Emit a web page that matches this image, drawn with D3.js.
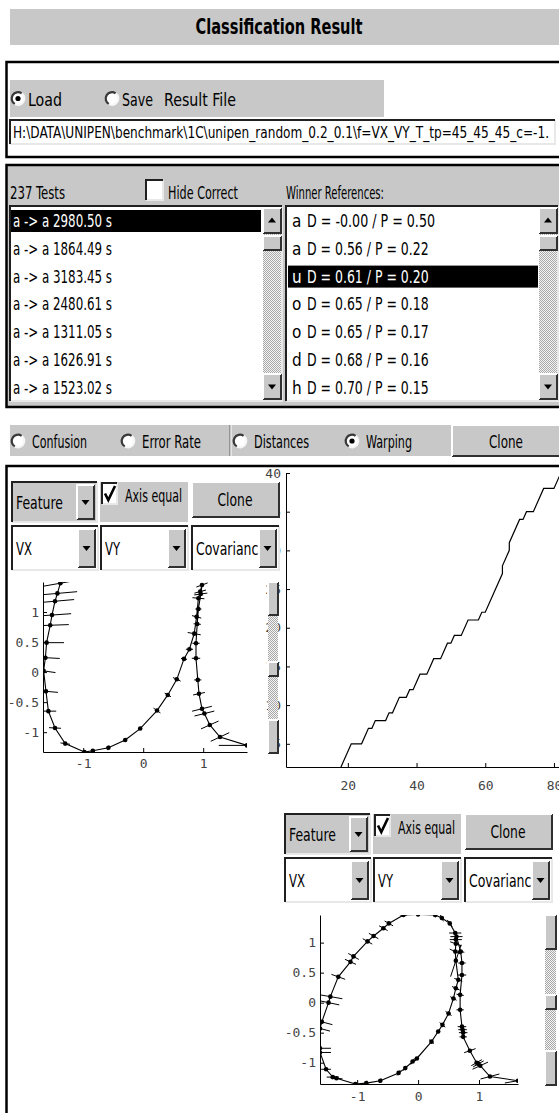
<!DOCTYPE html>
<html>
<head>
<meta charset="utf-8">
<title>Classification Result</title>
<script src="https://cdn.jsdelivr.net/npm/d3@7"></script>
<style>
  html, body { margin: 0; padding: 0; background: #fff; overflow: hidden; }
  svg text.gui { font-family: 'Liberation Sans Narrow', 'DejaVu Sans Condensed', 'Liberation Sans', sans-serif; fill: #000; }
  svg .tick text { font-family: 'DejaVu Sans Mono', 'Liberation Mono', monospace; font-size: 13px; fill: #444; }
</style>
</head>
<body>
<div id="chart"></div>
<script>

// ---------------- data ----------------
var resultPath = 'H:\\DATA\\UNIPEN\\benchmark\\1C\\unipen_random_0.2_0.1\\f=VX_VY_T_tp=45_45_45_c=-1.';
var testCount = 237;
var testItems = ['a -> a 2980.50 s', 'a -> a 1864.49 s', 'a -> a 3183.45 s', 'a -> a 2480.61 s',
                 'a -> a 1311.05 s', 'a -> a 1626.91 s', 'a -> a 1523.02 s'];
var refLetters = ['a', 'a', 'u', 'o', 'o', 'd', 'h'];
var refDist = ['-0.00', '0.56', '0.61', '0.65', '0.65', '0.68', '0.70'];
var refProb = ['0.50', '0.22', '0.20', '0.18', '0.17', '0.16', '0.15'];
var selectedTest = 0;
var selectedRef = 2;
var viewModes = ['Confusion', 'Error Rate', 'Distances', 'Warping'];
var activeMode = 'Warping';

// warping path (test frame index vs reference frame index)
var warpX = [18, 21, 24, 26, 27, 28, 31, 32, 33, 35, 37, 38, 39, 41, 43, 45, 47, 49, 50, 51, 53, 55,
             58, 59, 60, 65, 65, 67, 67, 70, 71, 72, 74, 77, 80, 82];
var warpY = [2, 5, 5, 7, 7, 8, 8, 9, 9, 11, 11, 12, 12, 14, 14, 16, 16, 18, 18, 19, 19, 21,
             21, 22, 22, 27, 28, 30, 31, 34, 34, 35, 35, 38, 38, 40];
var warpXTicks = [20, 40, 60, 80];
var warpYTicks = [5, 10, 15, 20, 25, 30, 35, 40];

// reference sample "u" (VX / VY) with covariance direction (deg) and half length
var refVX = [-1.38, -1.43, -1.47, -1.52, -1.55, -1.61, -1.63, -1.66, -1.62, -1.58, -1.47, -1.30, -0.98,
             -0.84, -0.58, -0.30, -0.05, 0.23, 0.41, 0.56, 0.68, 0.77, 0.85, 0.89, 0.92, 0.95, 0.98,
             0.96, 0.92, 0.90, 0.88, 0.88, 0.91, 0.93, 0.98, 1.02, 1.11, 1.28, 1.73];
var refVY = [1.48, 1.31, 1.18, 0.95, 0.78, 0.49, 0.24, 0.02, -0.32, -0.65, -0.93, -1.19, -1.33,
             -1.31, -1.26, -1.13, -0.94, -0.64, -0.38, -0.12, 0.22, 0.38, 0.64, 0.92, 1.23, 1.34, 1.45,
             1.30, 1.05, 0.80, 0.48, 0.23, -0.13, -0.36, -0.61, -0.69, -0.88, -1.08, -1.22];
var refCovAng = [10, 5, 5, 4, 2, 0, -3, -8, -5, 0, -3, -8, 80, 80, 75, 60, 45, -35, -30, -25, -10, 0, -10,
                 -15, -5, 15, 20, 8, 0, -5, 0, 0, 0, 12, 14, 14, 24, 25, 0];
var refCovLen = [0.35, 0.33, 0.32, 0.32, 0.31, 0.29, 0.24, 0.2, 0.2, 0.13, 0.1, 0.08, 0.03, 0.03, 0.04,
                 0.04, 0.04, 0.07, 0.06, 0.07, 0.05, 0.06, 0.11, 0.08, 0.1, 0.1, 0.1, 0.11, 0.05, 0.06,
                 0.06, 0.07, 0.06, 0.1, 0.17, 0.17, 0.16, 0.17, 0.47];

// test sample "a" (VX / VY) with covariance direction (deg) and half length
var testVX = [0.62, 0.61, 0.52, 0.39, 0.28, 0.00, -0.24, -0.48, -0.57, -0.73, -0.83, -1.06, -1.11, -1.31,
              -1.44, -1.47, -1.58, -1.61, -1.61, -1.61, -1.51, -1.40, -1.34, -1.03, -0.85, -0.62, -0.32,
              -0.21, -0.09, -0.02, 0.22, 0.33, 0.40, 0.50, 0.58, 0.62, 0.66, 0.62, 0.61, 0.62, 0.63,
              0.70, 0.72, 0.72, 0.69, 0.69, 0.72, 0.73, 0.74, 0.74, 0.85, 0.96, 0.99, 1.02, 1.18, 1.64];
var testVY = [1.05, 1.16, 1.32, 1.41, 1.46, 1.47, 1.46, 1.32, 1.24, 1.11, 1.02, 0.77, 0.68, 0.43,
              0.10, 0.00, -0.32, -0.43, -0.76, -0.83, -1.11, -1.24, -1.26, -1.355, -1.34, -1.30, -1.17,
              -1.09, -0.98, -0.93, -0.65, -0.48, -0.37, -0.18, 0.07, 0.24, 0.38, 0.70, 0.85, 0.98, 1.10,
              0.85, 0.66, 0.46, 0.13, -0.12, -0.40, -0.45, -0.50, -0.57, -0.80, -1.00, -1.02, -1.05, -1.23, -1.30];
var testCovAng = [0, 0, -55, -65, -80, 0, 0, -30, -30, -30, -30, -30, -25, -20, -10, -12, -15, -15, 0, 0,
                  0, 0, -5, 70, 75, 70, 60, 55, 60, 55, -40, 55, -40, -35, -30, -25, -20, 72, -25, -20, 0,
                  -10, 0, 0, -10, 0, 0, 0, 0, 0, 20, 30, 30, 25, 15, 10];
var testCovLen = [0.1, 0.1, 0.07, 0.06, 0.04, 0.08, 0.06, 0.08, 0.08, 0.09, 0.09, 0.1, 0.1, 0.12, 0.2,
                  0.18, 0.18, 0.17, 0.18, 0.18, 0.08, 0.1, 0.1, 0.03, 0.04, 0.04, 0.05, 0.05, 0.06, 0.06,
                  0.05, 0.05, 0.06, 0.06, 0.06, 0.07, 0.07, 0.28, 0.1, 0.1, 0.1, 0.06, 0.06, 0.07, 0.06,
                  0.06, 0.07, 0.07, 0.07, 0.06, 0.1, 0.1, 0.1, 0.14, 0.16, 0.22];

var scatterXTicks = [-1, 0, 1];
var scatterYTicks = [-1, -0.5, 0, 0.5, 1];

// ---------------- drawing ----------------
var GRAY = '#c8c8c8';

var svg = d3.select('#chart').append('svg')
  .attr('width', 559)
  .attr('height', 1113);

svg.append('rect').attr('width', 559).attr('height', 1113).attr('fill', '#fff');

var defs = svg.append('defs');
var dots = defs.append('pattern').attr('id', 'dots')
  .attr('width', 2).attr('height', 2).attr('patternUnits', 'userSpaceOnUse');
dots.append('rect').attr('width', 2).attr('height', 2).attr('fill', '#f4f4f4');
dots.append('rect').attr('width', 1).attr('height', 1).attr('fill', '#a8a8a8');
dots.append('rect').attr('x', 1).attr('y', 1).attr('width', 1).attr('height', 1).attr('fill', '#a8a8a8');

function label(g, x, y, str, size, len, anchor) {
  var t = g.append('text').attr('class', 'gui')
    .attr('x', x).attr('y', y)
    .attr('font-size', size)
    .attr('text-anchor', anchor || 'start')
    .text(str);
  if (len) t.attr('textLength', len).attr('lengthAdjust', 'spacingAndGlyphs');
  return t;
}

// windows style 3d box
function box(g, x, y, w, h, fill, kind) {
  g.append('rect').attr('x', x).attr('y', y).attr('width', w).attr('height', h).attr('fill', fill);
  var a = kind === 'raised' ? '#ffffff' : '#202020';
  var b = kind === 'raised' ? '#303030' : '#e8e8e8';
  g.append('path').attr('d', 'M' + x + ',' + (y + h) + 'H' + (x + w) + 'V' + y)
    .attr('fill', 'none').attr('stroke', b).attr('stroke-width', 2);
  g.append('path').attr('d', 'M' + x + ',' + (y + h) + 'V' + y + 'H' + (x + w))
    .attr('fill', 'none').attr('stroke', a).attr('stroke-width', 2);
}

function tri(g, cx, cy, up) {
  var s = up ? -1 : 1;
  g.append('path')
    .attr('d', 'M' + (cx - 4) + ',' + (cy - 2 * s) + 'L' + (cx + 4) + ',' + (cy - 2 * s) + 'L' + cx + ',' + (cy + 3 * s) + 'Z')
    .attr('fill', '#000');
}

function radio(g, cx, cy, on) {
  var arc = d3.arc().innerRadius(5.2).outerRadius(7.4);
  g.append('circle').attr('cx', cx).attr('cy', cy).attr('r', 6).attr('fill', '#fff');
  g.append('path').attr('transform', 'translate(' + cx + ',' + cy + ')')
    .attr('d', arc({ startAngle: 0.6, endAngle: 3.7 })).attr('fill', '#f6f6f6');
  g.append('path').attr('transform', 'translate(' + cx + ',' + cy + ')')
    .attr('d', arc({ startAngle: -2.6, endAngle: 0.6 })).attr('fill', '#383838');
  if (on) g.append('circle').attr('cx', cx).attr('cy', cy).attr('r', 2.6).attr('fill', '#000');
}

function check(g, x, y, w, h, on) {
  box(g, x, y, w, h, '#fff', 'sunken');
  if (on) {
    g.append('path')
      .attr('d', 'M' + (x + 3) + ',' + (y + h * 0.5) + 'L' + (x + w * 0.42) + ',' + (y + h - 4) + 'L' + (x + w - 2) + ',' + (y + 3))
      .attr('fill', 'none').attr('stroke', '#000').attr('stroke-width', 2.6);
  }
}

function dropdown(g, x, y, w, h, str, fill, len) {
  box(g, x, y, w, h, fill, 'sunken');
  label(g, x + 4, y + h / 2 + 7, str, 18, len);
  box(g, x + w - 20, y + 3, 17, h - 6, GRAY, 'raised');
  tri(g, x + w - 11.5, y + h / 2, false);
}

function scrollbar(g, x, y, w, h, btn, thumbY, thumbH, arrows) {
  g.append('rect').attr('x', x).attr('y', y).attr('width', w).attr('height', h).attr('fill', 'url(#dots)');
  box(g, x, y, w, btn, GRAY, 'raised');
  box(g, x, y + h - btn, w, btn, GRAY, 'raised');
  box(g, x, thumbY, w, thumbH, GRAY, 'raised');
  if (arrows) {
    tri(g, x + w / 2, y + btn / 2, true);
    tri(g, x + w / 2, y + h - btn / 2, false);
  }
}

//---------- title ----------
svg.append('rect').attr('x', 10).attr('y', 9).attr('width', 549).attr('height', 36).attr('fill', GRAY);
label(svg, 279, 34, 'Classification Result', 21, 167, 'middle').attr('font-weight', 'bold');

//---------- load / save panel ----------
svg.append('rect').attr('x', 6.5).attr('y', 62).attr('width', 600).attr('height', 95)
  .attr('fill', '#fff').attr('stroke', '#000').attr('stroke-width', 2.5);
svg.append('rect').attr('x', 10).attr('y', 80).attr('width', 374).attr('height', 37).attr('fill', GRAY);
radio(svg, 18, 98.5, true);
label(svg, 28, 106, 'Load', 18, 34);
radio(svg, 112, 98.5, false);
label(svg, 122, 106, 'Save', 18, 31);
label(svg, 164, 106, 'Result File', 18, 72);
box(svg, 10, 120, 545, 24, '#fff', 'sunken');
label(svg, 13, 138, resultPath, 16, 536);

//---------- test / reference lists ----------
svg.append('rect').attr('x', 6.5).attr('y', 165).attr('width', 600).attr('height', 242)
  .attr('fill', GRAY).attr('stroke', '#000').attr('stroke-width', 2.5);
label(svg, 10, 199, testCount + ' Tests', 17, 55);
check(svg, 146, 180, 17, 20, false);
label(svg, 168, 199, 'Hide Correct', 17, 70);
label(svg, 286, 199, 'Winner References:', 17, 98);

var rowY0 = 221, rowStep = 27.8;

var leftList = svg.append('g');
box(leftList, 10, 206, 272, 195, '#fff', 'sunken');
leftList.selectAll('rect.sel').data(testItems.filter((d, i) => i === selectedTest)).join('rect')
  .attr('class', 'sel')
  .attr('x', 11).attr('y', rowY0 + selectedTest * rowStep - 11)
  .attr('width', 250).attr('height', 22).attr('fill', '#000');
leftList.selectAll('text.row').data(testItems).join('text')
  .attr('class', 'gui row')
  .attr('x', 13).attr('y', (d, i) => rowY0 + i * rowStep + 6)
  .attr('font-size', 17)
  .attr('textLength', 99).attr('lengthAdjust', 'spacingAndGlyphs')
  .style('fill', (d, i) => i === selectedTest ? '#fff' : '#000')
  .text(d => d);
scrollbar(leftList, 263, 208, 18, 191, 25, 236, 14, true);

var rightList = svg.append('g');
box(rightList, 286, 206, 272, 195, '#fff', 'sunken');
rightList.append('rect')
  .attr('x', 288).attr('y', rowY0 + selectedRef * rowStep - 11)
  .attr('width', 250).attr('height', 22).attr('fill', '#000');
refLetters.forEach(function (c, i) {
  var col = i === selectedRef ? '#fff' : '#000';
  var txt = 'D = ' + refDist[i] + ' / P = ' + refProb[i];
  label(rightList, 292, rowY0 + i * rowStep + 6, c, 17).style('fill', col);
  label(rightList, 307, rowY0 + i * rowStep + 6, txt, 17, txt.length * 6.4).style('fill', col);
});
scrollbar(rightList, 539, 208, 18, 191, 25, 236, 14, true);

//---------- view mode bar ----------
svg.append('rect').attr('x', 10).attr('y', 425).attr('width', 549).attr('height', 31).attr('fill', GRAY);
var modeX = [18, 128, 240, 352];
var modeW = [55, 59, 55, 46];
viewModes.forEach(function (m, i) {
  radio(svg, modeX[i], 441, m === activeMode);
  label(svg, modeX[i] + 14, 448, m, 18, modeW[i]);
});
svg.append('line').attr('x1', 230).attr('x2', 230).attr('y1', 425).attr('y2', 456).attr('stroke', '#606060');
svg.append('line').attr('x1', 231).attr('x2', 231).attr('y1', 425).attr('y2', 456).attr('stroke', '#fff');
box(svg, 452, 425, 108, 31, GRAY, 'raised');
label(svg, 506, 448, 'Clone', 18, 34, 'middle');

//---------- warping / plots panel ----------
svg.append('rect').attr('x', 6.5).attr('y', 466).attr('width', 600).attr('height', 700)
  .attr('fill', '#fff').attr('stroke', '#000').attr('stroke-width', 2.5);

function styleAxis(g) {
  g.selectAll('.domain').attr('stroke', '#000');
  g.selectAll('.tick line').attr('stroke', '#000');
}

// warping path plot
var wx = d3.scaleLinear().domain([2, 84]).range([286, 567.7]);
var wy = d3.scaleLinear().domain([2, 40]).range([767, 473]);
var warp = svg.append('g');
warp.append('g').attr('transform', 'translate(0,767)')
  .call(d3.axisBottom(wx).tickValues(warpXTicks).tickSizeInner(-4).tickSizeOuter(0).tickPadding(14))
  .call(styleAxis);
warp.append('g').attr('transform', 'translate(286,0)')
  .call(d3.axisLeft(wy).tickValues(warpYTicks).tickSizeInner(-4).tickSizeOuter(0).tickPadding(5))
  .call(styleAxis);
warp.append('path')
  .datum(warpX.map((d, i) => [d, warpY[i]]))
  .attr('d', d3.line().x(d => wx(d[0])).y(d => wy(d[1])))
  .attr('fill', 'none').attr('stroke', '#000').attr('stroke-width', 1.2);

// feature selection controls above each trajectory plot
function controlPanel(ox, oy) {
  var g = svg.append('g').attr('transform', 'translate(' + ox + ',' + oy + ')');
  dropdown(g, 0, 0, 85, 40, 'Feature', GRAY, 47);
  g.append('rect').attr('x', 88).attr('y', 0).attr('width', 88).attr('height', 40).attr('fill', GRAY);
  check(g, 90, 1, 15, 21, true);
  label(g, 113, 20, 'Axis equal', 18, 57);
  box(g, 180, 0, 87, 35, GRAY, 'raised');
  label(g, 223, 24, 'Clone', 18, 35, 'middle');
  dropdown(g, 0, 44, 86, 44, 'VX', '#fff', 16);
  dropdown(g, 89, 44, 87, 44, 'VY', '#fff', 15);
  dropdown(g, 180, 44, 87, 44, 'Covariance', '#fff', 70);
}

// trajectory plot with covariance strokes
function trajectory(xDom, xRng, yDom, yRng, vx, vy, ang, len, id, xPad) {
  var sx = d3.scaleLinear().domain(xDom).range(xRng);
  var sy = d3.scaleLinear().domain(yDom).range(yRng);
  var g = svg.append('g');

  defs.append('clipPath').attr('id', id)
    .append('rect')
    .attr('x', xRng[0]).attr('y', yRng[1])
    .attr('width', xRng[1] - xRng[0]).attr('height', yRng[0] - yRng[1]);

  g.append('g').attr('transform', 'translate(0,' + yRng[0] + ')')
    .call(d3.axisBottom(sx).tickValues(scatterXTicks).tickFormat(d => String(d))
      .tickSizeInner(-4).tickSizeOuter(0).tickPadding(xPad))
    .call(styleAxis);
  g.append('g').attr('transform', 'translate(' + xRng[0] + ',0)')
    .call(d3.axisLeft(sy).tickValues(scatterYTicks).tickFormat(d => String(d))
      .tickSizeInner(-4).tickSizeOuter(0).tickPadding(4))
    .call(styleAxis);

  var plot = g.append('g').attr('clip-path', 'url(#' + id + ')');
  var pts = vx.map((d, i) => ({ x: d, y: vy[i], a: ang[i] * Math.PI / 180, l: len[i] }));

  plot.selectAll('line.cov').data(pts).join('line')
    .attr('class', 'cov')
    .attr('x1', d => sx(d.x - d.l * Math.cos(d.a)))
    .attr('y1', d => sy(d.y - d.l * Math.sin(d.a)))
    .attr('x2', d => sx(d.x + d.l * Math.cos(d.a)))
    .attr('y2', d => sy(d.y + d.l * Math.sin(d.a)))
    .attr('stroke', '#000').attr('stroke-width', 1);

  plot.append('path').datum(pts)
    .attr('d', d3.line().x(d => sx(d.x)).y(d => sy(d.y)))
    .attr('fill', 'none').attr('stroke', '#000').attr('stroke-width', 1.1);

  plot.selectAll('circle.pt').data(pts).join('circle')
    .attr('class', 'pt')
    .attr('cx', d => sx(d.x)).attr('cy', d => sy(d.y))
    .attr('r', 2.3).attr('fill', '#000');
}

trajectory([-1.67, 1.73], [43, 247], [-1.33, 1.5], [752, 582], refVX, refVY, refCovAng, refCovLen, 'clipRef', 7);
scrollbar(svg, 268, 582, 10, 171, 33, 662, 14, false);
controlPanel(12, 482);

controlPanel(285, 814);
trajectory([-1.61, 1.64], [320, 518], [-1.355, 1.46], [1084, 915], testVX, testVY, testCovAng, testCovLen, 'clipTest', 8);
scrollbar(svg, 545, 915, 11, 170, 34, 995, 14, false);

</script>
</body>
</html>
